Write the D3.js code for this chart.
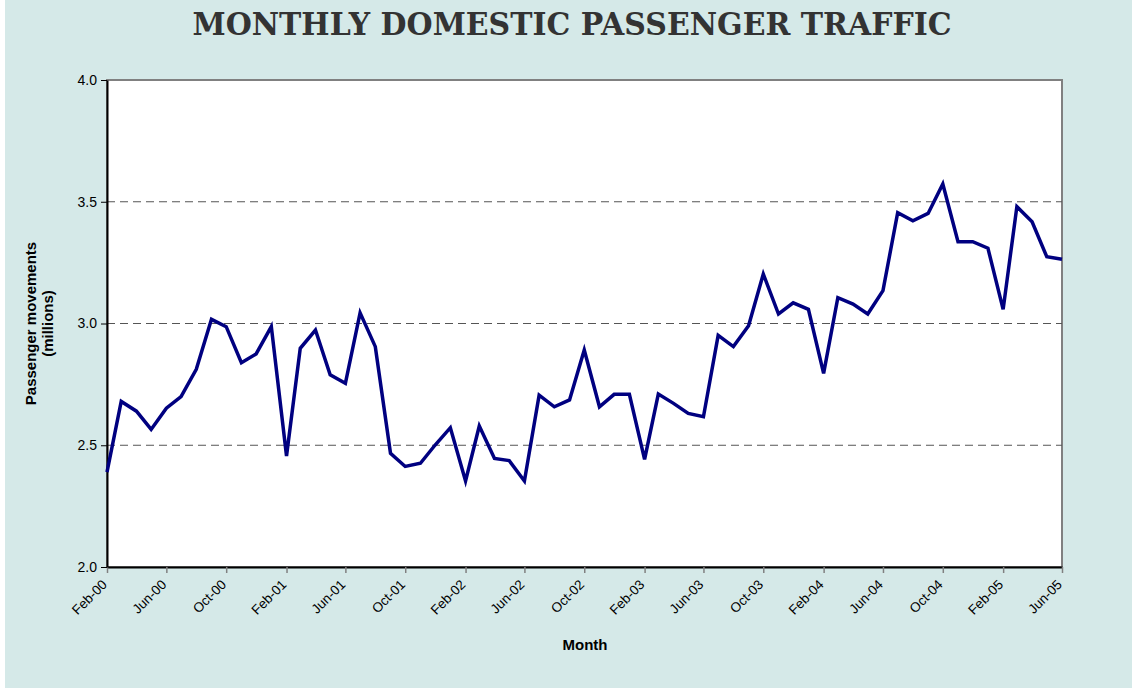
<!DOCTYPE html>
<html>
<head>
<meta charset="utf-8">
<script src="https://cdn.jsdelivr.net/npm/d3@7"></script>
<style>
  body { margin: 0; background: #fff; }
  text { font-family: "Liberation Sans", Arial, sans-serif; fill: #000; }
</style>
</head>
<body>
<svg id="chart" width="1132" height="693"></svg>
<script>
// monthly domestic passenger movements, millions, Feb-00 .. Jun-05
var startMonth = new Date(2000, 1, 1);
var passengers = [
    2.39, 2.68, 2.64, 2.565, 2.652, 2.70, 2.812, 3.017, 2.987, 2.839,
    2.875, 2.987, 2.456, 2.898, 2.973, 2.789, 2.754, 3.044, 2.905, 2.467,
    2.413, 2.426, 2.501, 2.572, 2.353, 2.579, 2.446, 2.437, 2.353, 2.706,
    2.658, 2.686, 2.891, 2.658, 2.709, 2.709, 2.442, 2.710, 2.672, 2.631,
    2.617, 2.951, 2.905, 2.991, 3.203, 3.039, 3.085, 3.058, 2.795, 3.106,
    3.080, 3.039, 3.135, 3.455, 3.422, 3.452, 3.573, 3.336, 3.336, 3.309,
    3.058, 3.480, 3.418, 3.274, 3.264
];
var yTicks = [2.0, 2.5, 3.0, 3.5, 4.0];
var gridValues = [2.5, 3.0, 3.5];

var data = passengers.map(function(v, i){
    return { date: d3.timeMonth.offset(startMonth, i), value: v };
});

var svg = d3.select("#chart");
var padding = { top: 80, right: 70, bottom: 126, left: 107 };
var width = +svg.attr("width");
var height = +svg.attr("height");

svg.append("rect")
    .attr("x", 5).attr("y", 0)
    .attr("width", width - 5).attr("height", 688)
    .attr("fill", "#d5e9e8");

var x = d3.scaleTime()
    .domain([data[0].date, data[data.length - 1].date])
    .range([padding.left, width - padding.right]);

var y = d3.scaleLinear()
    .domain([2, 4])
    .range([height - padding.bottom, padding.top]);

// plot area
svg.append("rect")
    .attr("x", padding.left).attr("y", padding.top)
    .attr("width", width - padding.right - padding.left)
    .attr("height", height - padding.bottom - padding.top)
    .attr("fill", "#fff")
    .attr("stroke", "#808080")
    .attr("stroke-width", 2);

svg.append("g")
    .selectAll("line")
    .data(gridValues)
    .enter()
    .append("line")
        .attr("x1", padding.left)
        .attr("x2", width - padding.right)
        .attr("y1", d => y(d))
        .attr("y2", d => y(d))
        .attr("stroke", "#555")
        .attr("stroke-width", 1)
        .attr("stroke-dasharray", "8,5");

var tickDates = d3.range(0, data.length, 4).map(i => data[i].date);

var xAxis = svg.append("g")
    .attr("transform", "translate(0," + (height - padding.bottom) + ")")
    .call(d3.axisBottom(x)
        .tickValues(tickDates)
        .tickSize(6)
        .tickSizeOuter(0)
        .tickFormat(d3.timeFormat("%b-%y")));

xAxis.select(".domain").attr("stroke", "#000").attr("stroke-width", 2);
xAxis.selectAll(".tick line").attr("stroke", "#808080").attr("stroke-width", 1.5);
xAxis.selectAll("text")
    .attr("font-size", 13.5)
    .attr("fill", "#000")
    .style("text-anchor", "end")
    .attr("x", 0)
    .attr("y", 0)
    .attr("dy", "0.35em")
    .attr("transform", "translate(-3,15) rotate(-45)");

var yAxis = svg.append("g")
    .attr("transform", "translate(" + padding.left + ",0)")
    .call(d3.axisLeft(y)
        .tickValues(yTicks)
        .tickSize(6)
        .tickSizeOuter(0)
        .tickFormat(d3.format(".1f")));

yAxis.select(".domain").attr("stroke", "#000").attr("stroke-width", 2);
yAxis.selectAll(".tick line").attr("stroke", "#000");
yAxis.selectAll("text")
    .attr("font-size", 14)
    .attr("x", -10)
    .attr("fill", "#000");

var line = d3.line()
    .x(d => x(d.date))
    .y(d => y(d.value));

svg.append("path")
    .datum(data)
    .attr("fill", "none")
    .attr("stroke", "#000080")
    .attr("stroke-width", 3.5)
    .attr("stroke-linejoin", "miter")
    .attr("d", line);

svg.append("text")
    .attr("x", 572)
    .attr("y", 35)
    .attr("text-anchor", "middle")
    .attr("textLength", 759)
    .attr("lengthAdjust", "spacingAndGlyphs")
    .style("font-family", "'DejaVu Serif', serif")
    .style("font-weight", "bold")
    .style("font-size", "32px")
    .style("fill", "#333")
    .text("MONTHLY DOMESTIC PASSENGER TRAFFIC");

svg.append("text")
    .attr("x", 585)
    .attr("y", 650)
    .attr("text-anchor", "middle")
    .style("font-weight", "bold")
    .style("font-size", "15px")
    .text("Month");

var yLabel = svg.append("text")
    .attr("transform", "translate(36," + y(3) + ") rotate(-90)")
    .attr("text-anchor", "middle")
    .style("font-weight", "bold")
    .style("font-size", "15px");
yLabel.append("tspan").attr("x", 0).attr("y", 0).text("Passenger movements");
yLabel.append("tspan").attr("x", 0).attr("y", 17).text("(millions)");
</script>
</body>
</html>
